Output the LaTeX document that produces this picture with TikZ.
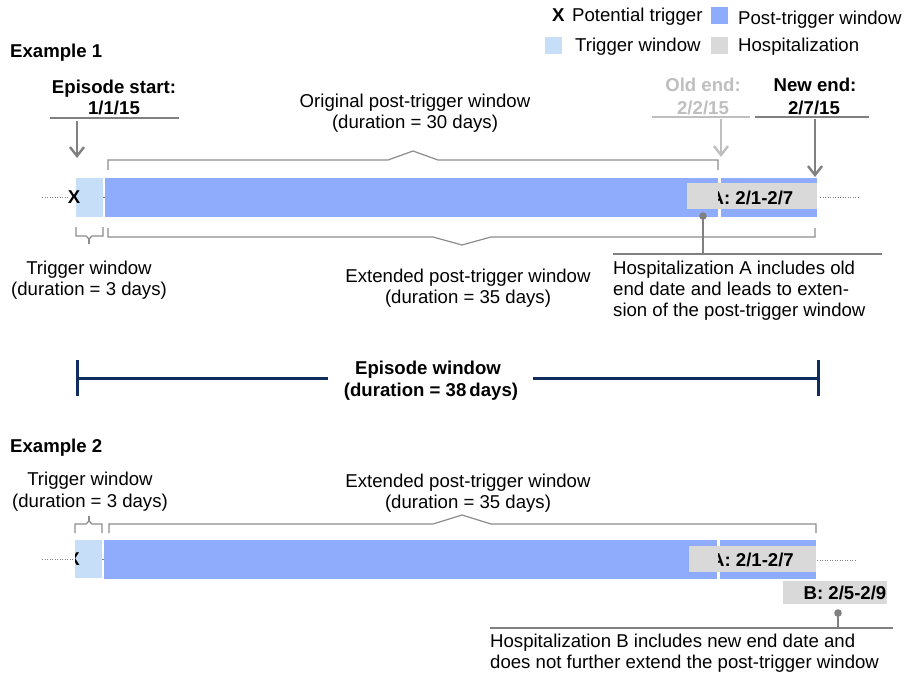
\documentclass[tikz,border=0pt]{standalone}
\usepackage{fontspec}
\setmainfont{Liberation Sans}
\usetikzlibrary{arrows.meta}
\definecolor{pblue}{RGB}{143,172,252}
\definecolor{tblue}{RGB}{198,222,248}
\definecolor{hgray}{RGB}{217,217,217}
\definecolor{lgray}{RGB}{191,191,191}
\definecolor{dgray}{RGB}{128,128,128}
\definecolor{bgray}{RGB}{140,140,140}
\definecolor{navy}{RGB}{16,45,95}
\begin{document}
\begin{tikzpicture}[x=1pt,y=-1pt,
  txt/.style={inner sep=0pt, font=\fontsize{18.6}{21}\selectfont, anchor=base},
  btxt/.style={inner sep=0pt, font=\fontsize{18.6}{21}\selectfont\bfseries, anchor=base},
  sq/.style={draw=none, minimum size=17pt, inner sep=0pt},
  brk/.style={draw=bgray, line width=1.2pt},
  uline/.style={line width=1.6pt},
  arr/.style={line width=2.4pt, -{Straight Barb[length=9pt,width=14pt,line width=2.4pt]}},
  dotline/.style={draw=dgray, line width=1pt, dash pattern=on 1pt off 1.5pt},
  cal/.style={draw=dgray, line width=2pt},
  epi/.style={draw=navy, line width=3pt}]
\useasboundingbox (0,0) rectangle (904,677);
\fill[white] (0,0) rectangle (904,677);

% ---------- legend ----------
\node[btxt, anchor=base west] (lgx) at (552,22) {X};
\node[txt, anchor=base west] (lgpt) at (572,22) {Potential trigger};
\node[sq, fill=pblue] (lgsq1) at (719,16) {};
\node[txt, anchor=base west] (lgpw) at (738,25) {Post-trigger window};
\node[sq, fill=tblue] (lgsq2) at (553,45.5) {};
\node[txt, anchor=base west] (lgtw) at (575,52) {Trigger window};
\node[sq, fill=hgray] (lgsq3) at (719.5,45.5) {};
\node[txt, anchor=base west] (lgh) at (738,52) {Hospitalization};

% ---------- Example 1 ----------
\node[btxt, anchor=base west] (ex1) at (10,58) {Example 1};

\node[btxt] (es1) at (114,93) {Episode start:};
\node[btxt] (es2) at (114,114) {1/1/15};
\coordinate (esL) at (50,118); \coordinate (esR) at (179,118);
\draw[uline, dgray] (esL) -- (esR);
\coordinate (esA) at (77,121); \coordinate (esB) at (77,158);
\draw[arr, dgray] (esA) -- (esB);

\node[txt] (ot1) at (415,107) {Original post-trigger window};
\node[txt] (ot2) at (415,128) {(duration = 30 days)};

\node[btxt, text=lgray] (oe1) at (703,92) {Old end:};
\node[btxt, text=lgray] (oe2) at (703,114) {2/2/15};
\coordinate (oeL) at (652,117); \coordinate (oeR) at (750,117);
\draw[uline, lgray] (oeL) -- (oeR);
\coordinate (oeA) at (721,119); \coordinate (oeB) at (721,157);
\draw[arr, lgray] (oeA) -- (oeB);

\node[btxt] (ne1) at (815,92) {New end:};
\node[btxt] (ne2) at (814,114) {2/7/15};
\coordinate (neL) at (755,117); \coordinate (neR) at (869,117);
\draw[uline, dgray] (neL) -- (neR);
\coordinate (neA) at (815,119); \coordinate (neB) at (815,177);
\draw[arr, dgray] (neA) -- (neB);

% timeline 1
\coordinate (d1a) at (42,197); \coordinate (d1b) at (68,197);
\draw[dotline] (d1a) -- (d1b);
\coordinate (g1a) at (76,197); \coordinate (g1b) at (106,197);
\draw[draw=dgray, line width=1pt] (g1a) -- (g1b);
\fill[tblue] (76,178) rectangle (103,217);
\fill[pblue] (105,178) rectangle (718,217);
\fill[pblue] (721,178) rectangle (817,217);
\fill[hgray] (687,183) rectangle (817,209);
\begin{scope}
  \clip (718.5,180) rectangle (820,212);
  \node[btxt] (a1) at (752,204) {A: 2/1-2/7};
\end{scope}
\node[btxt] (x1) at (74,203.5) {X};
\coordinate (d1c) at (820,197); \coordinate (d1d) at (858,197);
\draw[dotline] (d1c) -- (d1d);

% brackets 1
\draw[brk] (108,170) -- (108,160) -- (388,160) -- (413,151) -- (438,160) -- (718,160) -- (718,170);
\draw[brk] (108,228) -- (108,237) -- (433,237) -- (462,245) -- (491,237) -- (815,237) -- (815,228);
\draw[brk] (76,227) -- (76,236) -- (86,236) -- (89,239) -- (92,236) -- (103,236) -- (103,227);
\draw[brk] (89,239) -- (89,244);

\node[txt] (tw1a) at (89,274) {Trigger window};
\node[txt] (tw1b) at (89,295) {(duration = 3 days)};
\node[txt] (ex1a) at (468,282) {Extended post-trigger window};
\node[txt] (ex1b) at (468,303) {(duration = 35 days)};

% callout A
\coordinate (caDot) at (703,216); \coordinate (caB) at (703,254);
\coordinate (caL) at (613,254); \coordinate (caR) at (882,254);
\draw[cal] (caDot) -- (caB);
\draw[cal] (caL) -- (caR);
\fill[dgray] (caDot) circle (3.8pt);
\node[txt, anchor=base west] (ca1) at (613,274) {Hospitalization A includes old};
\node[txt, anchor=base west] (ca2) at (613,295) {end date and leads to exten-};
\node[txt, anchor=base west] (ca3) at (613,316) {sion of the post-trigger window};

% ---------- Episode window ----------
\coordinate (ewL) at (77,378); \coordinate (ewR) at (818,378);
\coordinate (ewM1) at (328,378); \coordinate (ewM2) at (533,378);
\draw[epi] (77,360) -- (77,396);
\draw[epi] (818,360) -- (818,396);
\draw[epi] (ewL) -- (ewM1);
\draw[epi] (ewM2) -- (ewR);
\node[btxt] (ew1) at (428,374) {Episode window};
\node[btxt] (ew2) at (431,396) {(duration = 38\,days)};

% ---------- Example 2 ----------
\node[btxt, anchor=base west] (ex2) at (10,452) {Example 2};
\node[txt] (tw2a) at (90,485) {Trigger window};
\node[txt] (tw2b) at (90,507) {(duration = 3 days)};
\node[txt] (ex2a) at (468,487) {Extended post-trigger window};
\node[txt] (ex2b) at (468,508) {(duration = 35 days)};

\draw[brk] (75,533) -- (75,524) -- (86,524) -- (89,521) -- (92,524) -- (102,524) -- (102,533);
\draw[brk] (89,521) -- (89,516);
\draw[brk] (109,533) -- (109,524) -- (433,524) -- (462,515) -- (491,524) -- (816,524) -- (816,533);

% timeline 2
\coordinate (d2a) at (42,559); \coordinate (d2b) at (75,559);
\draw[dotline] (d2a) -- (d2b);
\coordinate (g2a) at (101,559); \coordinate (g2b) at (105,559);
\draw[draw=dgray, line width=1pt] (g2a) -- (g2b);
\fill[tblue] (75,540) rectangle (102,578);
\fill[pblue] (104,540) rectangle (717,579);
\fill[pblue] (720,540) rectangle (816,579);
\begin{scope}
  \clip (75,538) rectangle (102,580);
  \node[btxt] (x2) at (73.5,565.5) {X};
\end{scope}
\fill[hgray] (689,546) rectangle (816,572);
\begin{scope}
  \clip (718,543) rectangle (820,575);
  \node[btxt] (a2) at (752.5,566) {A: 2/1-2/7};
\end{scope}
\coordinate (d2c) at (817,560); \coordinate (d2d) at (857,560);
\draw[dotline] (d2c) -- (d2d);
\fill[hgray] (783,581) rectangle (887,604);
\node[btxt] (b2) at (845,599) {B: 2/5-2/9};

% callout B
\coordinate (cbDot) at (838,613); \coordinate (cbB) at (838,628);
\coordinate (cbL) at (490,628); \coordinate (cbR) at (893,628);
\draw[cal] (cbDot) -- (cbB);
\draw[cal] (cbL) -- (cbR);
\fill[dgray] (cbDot) circle (3.8pt);
\node[txt, anchor=base west] (cb1) at (490,647) {Hospitalization B includes new end date and};
\node[txt, anchor=base west] (cb2) at (490,668) {does not further extend the post-trigger window};
\end{tikzpicture}
\end{document}
